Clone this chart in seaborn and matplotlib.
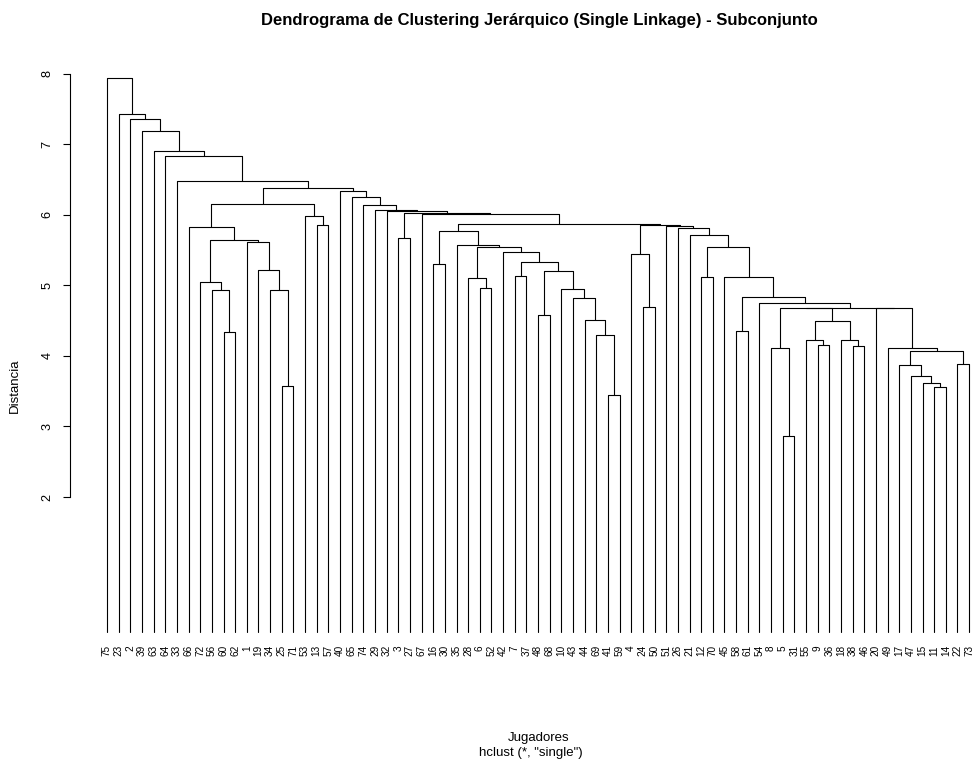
import numpy as np
import pandas as pd
import matplotlib
matplotlib.use('Agg')
import matplotlib.pyplot as plt
import seaborn as sns

sns.set_style('white')
plt.rcParams['font.family'] = ['Liberation Sans', 'DejaVu Sans']
plt.rcParams['text.color'] = 'black'
plt.rcParams['ytick.color'] = 'black'
plt.rcParams['axes.edgecolor'] = 'black'

# orden de los jugadores en el eje x (de izquierda a derecha)
orden_hojas = [75, 23, 2, 39, 63, 64, 33, 66, 72, 56, 60, 62, 1, 19, 34, 25, 71, 53, 13, 57,
               40, 65, 74, 29, 32, 3, 27, 67, 16, 30, 35, 28, 6, 52, 42, 7, 37, 48, 68, 10,
               43, 44, 69, 41, 59, 4, 24, 50, 51, 26, 21, 12, 70, 45, 58, 61, 54, 8, 5, 31,
               55, 9, 36, 18, 38, 46, 20, 49, 17, 47, 15, 11, 14, 22, 73]

# matriz de fusiones estilo hclust: negativo = jugador, positivo = fusion anterior (1-based)
fusion_izq = [-5, -41, -11, -25, -15, -47, -17, -22, 7, -49,
              -8, -38, -9, -55, -18, -69, -60, -58, 14, -44,
              -48, 11, -20, 22, -24, -54, -43, 18, -34, -56,
              -10, -6, -72, -28, -12, -45, -7, 21, -19, -16,
              37, -4, -42, 35, 34, -35, -1, 33, -3, -21,
              40, -26, -66, -51, -13, 42, 51, -53, -67, 49,
              -32, -29, -74, 53, -65, -40, 64, -33, -64, -63,
              -39, -2, -23, -75]
fusion_der = [-31, -59, -14, -71, 3, 5, 6, -73, 8, 9,
              1, -46, -36, 13, 12, 2, -62, -61, 15, 16,
              -68, 19, 10, 23, -50, 24, 20, 26, 4, 17,
              27, -52, 30, 32, -70, 28, -37, 31, 29, -30,
              38, 25, 41, 36, 43, 45, 39, 47, -27, 44,
              46, 50, 48, 52, -57, 54, 56, 55, 57, 59,
              60, 61, 62, 58, 63, 65, 66, 67, 68, 69,
              70, 71, 72, 73]
alturas = [2.87, 3.45, 3.56, 3.57, 3.61, 3.72, 3.87, 3.88, 4.07, 4.12,
           4.12, 4.14, 4.16, 4.23, 4.23, 4.30, 4.34, 4.36, 4.50, 4.51,
           4.58, 4.677, 4.68, 4.685, 4.70, 4.75, 4.82, 4.83, 4.93, 4.93,
           4.95, 4.96, 5.05, 5.10, 5.12, 5.125, 5.13, 5.20, 5.22, 5.30,
           5.33, 5.45, 5.47, 5.54, 5.54, 5.57, 5.61, 5.64, 5.68, 5.72,
           5.78, 5.81, 5.83, 5.84, 5.86, 5.86, 5.87, 5.98, 6.01, 6.03,
           6.05, 6.07, 6.14, 6.15, 6.26, 6.34, 6.38, 6.48, 6.83, 6.91,
           7.19, 7.36, 7.43, 7.95]

base_hoja = 0.08  # donde terminan las ramas de las hojas

# posiciones de hojas y nodos
pos_hoja = {j: i + 1 for i, j in enumerate(orden_hojas)}
pos_nodo = {}

def coord(c):
    if c < 0:
        return pos_hoja[-c], base_hoja
    return pos_nodo[c], alturas[c - 1]

filas = []
for k, (a, b, h) in enumerate(zip(fusion_izq, fusion_der, alturas), start=1):
    xa, ha = coord(a)
    xb, hb = coord(b)
    pos_nodo[k] = (xa + xb) / 2
    for orden, (x, y) in enumerate([(xa, ha), (xa, h), (xb, h), (xb, hb)]):
        filas.append({'fusion': k, 'orden': orden, 'x': x, 'y': y})
segmentos = pd.DataFrame(filas)

fig = plt.figure(figsize=(9.74, 7.6), dpi=100)
ax = fig.add_axes([70 / 974, 1 - 638 / 760, 904 / 974, 578 / 760])

sns.lineplot(data=segmentos, x='x', y='y', units='fusion', estimator=None, sort=False,
             color='black', linewidth=0.8, ax=ax, legend=False)

ax.set_xlim(1 - 37 / 11.65, 1 + 867 / 11.65)
ax.set_ylim(0, 8 + 14 / 70.5)

# etiquetas de las hojas
for j, x in pos_hoja.items():
    ax.text(x, -0.1, str(j), rotation=90, ha='center', va='top', fontsize=7.2)

# eje y estilo R
for s in ['top', 'right', 'bottom']:
    ax.spines[s].set_visible(False)
ax.spines['left'].set_bounds(2, 8)
ax.spines['left'].set_linewidth(0.8)
ax.set_yticks(range(2, 9))
ax.set_yticklabels([str(v) for v in range(2, 9)], rotation=90, va='center', fontsize=9.2)
ax.tick_params(axis='y', direction='out', length=5, width=0.8, pad=7, left=True, colors='black')
ax.set_xticks([])
ax.set_xlabel('')
ax.set_ylabel('')

fig.text(539 / 974, 1 - 21 / 760, 'Dendrograma de Clustering Jerárquico (Single Linkage) - Subconjunto',
         ha='center', va='center', fontsize=12, fontweight='bold')
fig.text(15 / 974, 1 - 386 / 760, 'Distancia', rotation=90, ha='center', va='center', fontsize=9.5)
fig.text(539 / 974, 1 - 738 / 760, 'Jugadores', ha='center', va='center', fontsize=9.5)
fig.text(531 / 974, 1 - 753 / 760, 'hclust (*, "single")', ha='center', va='center', fontsize=9.5)

fig.savefig('out.png', dpi=100, facecolor='white')
